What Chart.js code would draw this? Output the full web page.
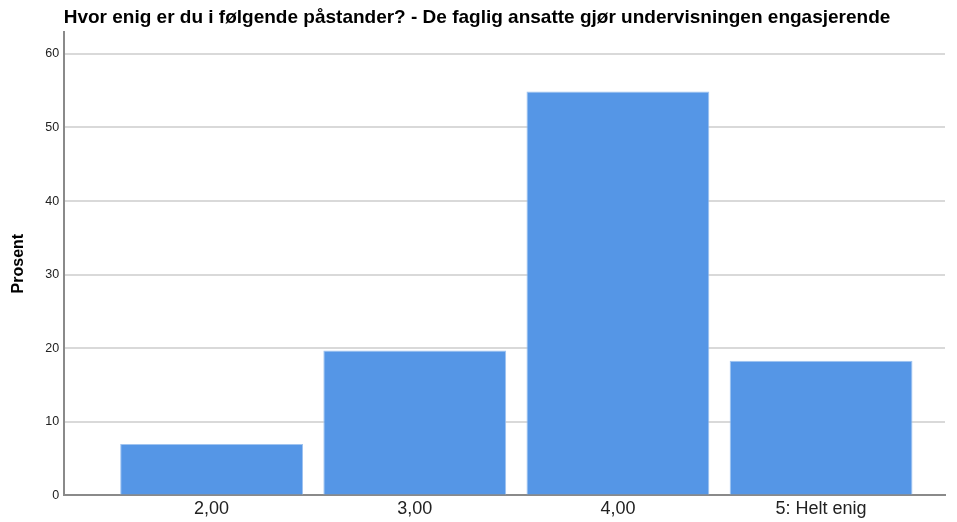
<!DOCTYPE html>
<html>
<head>
<meta charset="utf-8">
<script src="https://cdn.jsdelivr.net/npm/chart.js@4"></script>
<style>
  html, body { margin: 0; padding: 0; background: #fff; }
  #wrap { width: 957px; height: 522px; }
</style>
</head>
<body>
<div id="wrap"><canvas id="myChart"></canvas></div>
<script>
// data
const categories = ['2,00', '3,00', '4,00', '5: Helt enig'];
const codes = [2, 3, 4, 5];
const percents = [7.0, 19.7, 54.9, 18.3];
const yTicks = [0, 10, 20, 30, 40, 50, 60];

const ctx = document.getElementById('myChart').getContext('2d');

new Chart(ctx, {
    type: 'bar',
    data: {
        datasets: [{
            data: codes.map((c, i) => ({ x: c, y: percents[i] })),
            backgroundColor: 'rgb(85, 150, 230)',
            borderColor: 'rgb(160, 196, 240)',
            borderWidth: 1,
            barPercentage: 0.9,
            categoryPercentage: 1.0
        }]
    },
    options: {
        responsive: true,
        maintainAspectRatio: false,
        animation: false,
        layout: { padding: { top: 0, right: 12, bottom: 0, left: 9 } },
        plugins: {
            legend: { display: false },
            tooltip: { enabled: false },
            title: {
                display: true,
                text: 'Hvor enig er du i følgende påstander? - De faglig ansatte gjør undervisningen engasjerende',
                color: '#000',
                font: { family: 'Liberation Sans', size: 19, weight: 'bold' },
                padding: { top: 6, bottom: 3 }
            }
        },
        scales: {
            x: {
                type: 'linear',
                min: 1.274,
                max: 5.61,
                offset: false,
                afterBuildTicks: function(scale) {
                    scale.ticks = codes.map(v => ({ value: v }));
                },
                ticks: {
                    color: '#222',
                    font: { family: 'Liberation Sans', size: 18 },
                    padding: 2.5,
                    callback: function(value) {
                        const i = codes.indexOf(value);
                        return i >= 0 ? categories[i] : '';
                    }
                },
                grid: { display: false, drawTicks: false },
                border: { display: true, color: '#8a8a8a', width: 2 }
            },
            y: {
                min: 0,
                max: 63,
                afterBuildTicks: function(scale) {
                    scale.ticks = yTicks.map(v => ({ value: v }));
                },
                ticks: {
                    color: '#222',
                    font: { family: 'Liberation Sans', size: 12.5 },
                    padding: 5
                },
                grid: {
                    color: '#d9d9d9',
                    lineWidth: 2,
                    drawTicks: false
                },
                border: { display: true, color: '#8a8a8a', width: 2 },
                title: {
                    display: true,
                    text: 'Prosent',
                    color: '#000',
                    font: { family: 'Liberation Sans', size: 16, weight: 'bold' },
                    padding: { top: 0, bottom: 12 }
                }
            }
        }
    }
});
</script>
</body>
</html>
